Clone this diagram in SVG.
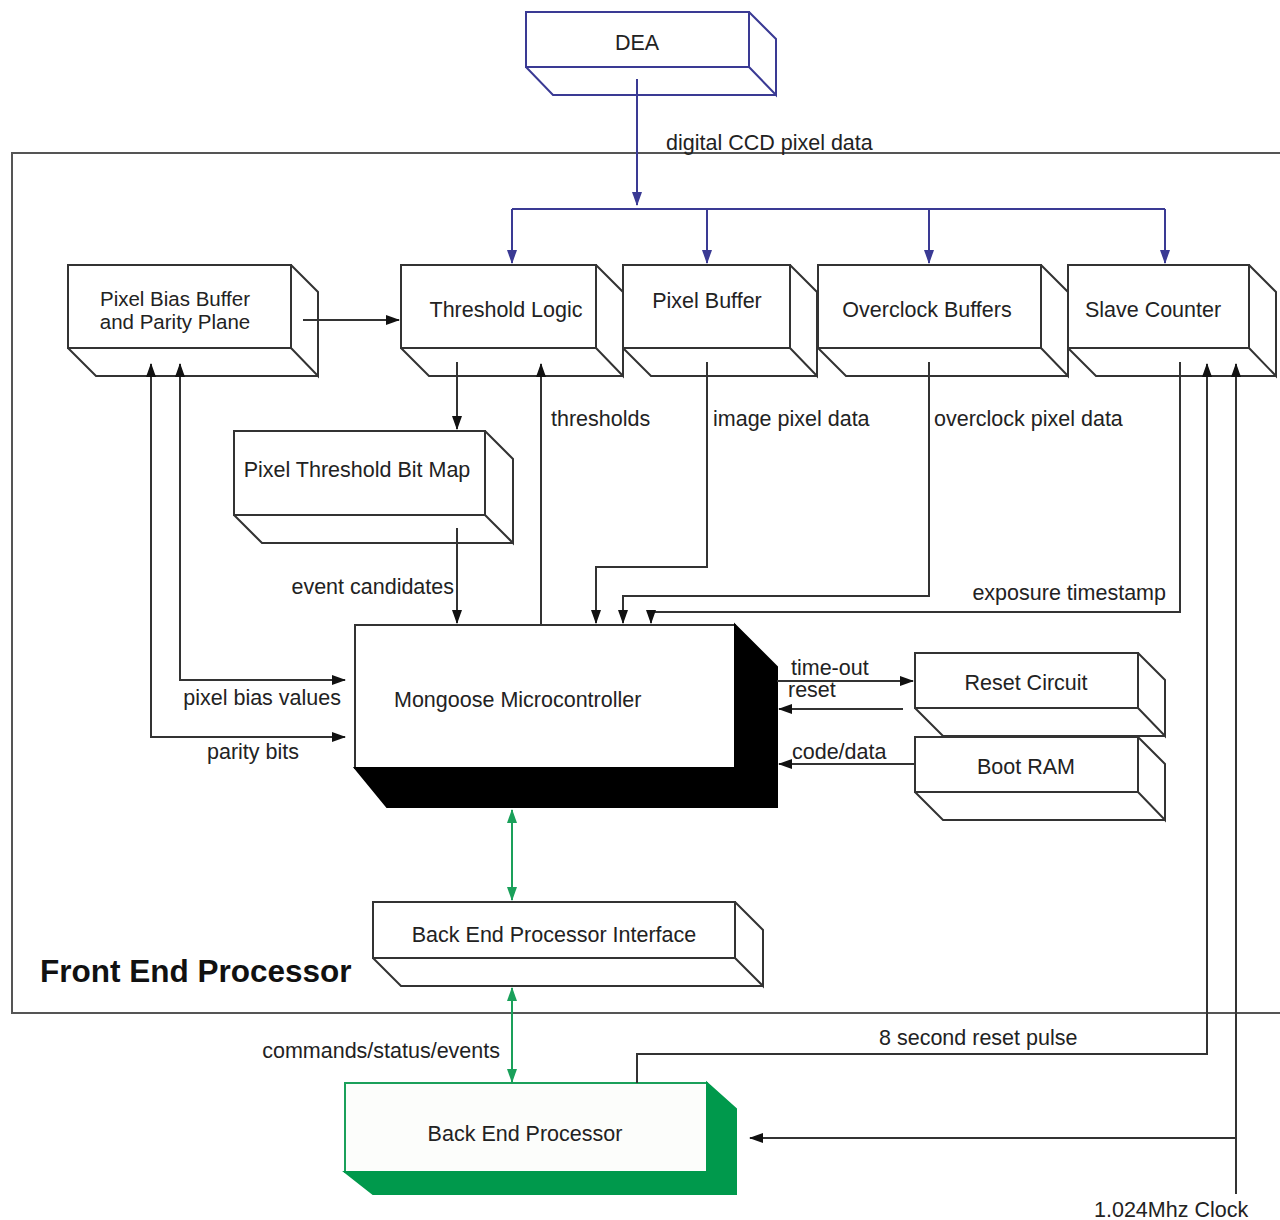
<svg xmlns="http://www.w3.org/2000/svg" width="1280" height="1220" viewBox="0 0 1280 1220">
  <style>
    text { font-family: "Liberation Sans", Arial, sans-serif; font-size: 21.5px; fill: #222; }
    .box { fill: #fff; stroke: #333; stroke-width: 2; stroke-linejoin: miter; }
    .blue { fill: #fff; stroke: #3a3a94; stroke-width: 2; }
    .wire { fill: none; stroke: #333; stroke-width: 2; }
    .bwire { fill: none; stroke: #3a3a94; stroke-width: 2; }
    .gwire { fill: none; stroke: #1aa05a; stroke-width: 2; }
    .mid { text-anchor: middle; }
    .end { text-anchor: end; }
    .two { font-size: 20.5px; }
  </style>
  <defs>
    <marker id="ah" markerUnits="userSpaceOnUse" markerWidth="14" markerHeight="10" refX="13" refY="5" orient="auto-start-reverse">
      <path d="M0,0 L14,5 L0,10 Z" fill="#111"/>
    </marker>
    <marker id="ahb" markerUnits="userSpaceOnUse" markerWidth="14" markerHeight="10" refX="13" refY="5" orient="auto-start-reverse">
      <path d="M0,0 L14,5 L0,10 Z" fill="#3a3a94"/>
    </marker>
    <marker id="ahg" markerUnits="userSpaceOnUse" markerWidth="14" markerHeight="10" refX="13" refY="5" orient="auto-start-reverse">
      <path d="M0,0 L14,5 L0,10 Z" fill="#1aa05a"/>
    </marker>
  </defs>

  <!-- Front End Processor enclosure -->
  <g id="front-end-processor">
    <rect x="12" y="153" width="1290" height="860" fill="none" stroke="#555" stroke-width="2"/>
    <text x="40" y="982" style="font-size:31.5px;font-weight:bold;fill:#111">Front End Processor</text>
  </g>

  <!-- DEA -->
  <g id="dea">
    <path class="blue" d="M526,12 H749 V67 H526 Z M749,12 L776,39 V95 L749,67 M526,67 L553,95 H776"/>
    <text class="mid" x="637" y="50">DEA</text>
  </g>

  <!-- Pixel Bias Buffer and Parity Plane -->
  <g id="pixel-bias-buffer">
    <path class="box" d="M68,265 H291 V348 H68 Z M291,265 L318,292 V376 L291,348 M68,348 L96,376 H318"/>
    <text class="mid two" x="175" y="306">Pixel Bias Buffer</text>
    <text class="mid two" x="175" y="329">and Parity Plane</text>
  </g>

  <!-- Threshold Logic -->
  <g id="threshold-logic">
    <path class="box" d="M401,265 H596 V348 H401 Z M596,265 L623,292 V376 L596,348 M401,348 L429,376 H623"/>
    <text class="mid" x="506" y="317">Threshold Logic</text>
  </g>

  <!-- Pixel Buffer -->
  <g id="pixel-buffer">
    <path class="box" d="M623,265 H790 V348 H623 Z M790,265 L817,292 V376 L790,348 M623,348 L651,376 H817"/>
    <text class="mid" x="707" y="308">Pixel Buffer</text>
  </g>

  <!-- Overclock Buffers -->
  <g id="overclock-buffers">
    <path class="box" d="M818,265 H1041 V348 H818 Z M1041,265 L1068,292 V376 L1041,348 M818,348 L846,376 H1068"/>
    <text class="mid" x="927" y="317">Overclock Buffers</text>
  </g>

  <!-- Slave Counter -->
  <g id="slave-counter">
    <path class="box" d="M1068,265 H1249 V348 H1068 Z M1249,265 L1276,292 V376 L1249,348 M1068,348 L1096,376 H1276"/>
    <text class="mid" x="1153" y="317">Slave Counter</text>
  </g>

  <!-- Pixel Threshold Bit Map -->
  <g id="pixel-threshold-bit-map">
    <path class="box" d="M234,431 H485 V515 H234 Z M485,431 L513,459 V543 L485,515 M234,515 L262,543 H513"/>
    <text class="mid" x="357" y="477">Pixel Threshold Bit Map</text>
  </g>

  <!-- Mongoose Microcontroller -->
  <g id="mongoose">
    <rect class="box" x="355" y="625" width="380" height="143"/>
    <path d="M735,625 L777,667 V807 H387 L355,768 H735 Z" fill="#000" stroke="#000" stroke-width="2" stroke-linejoin="miter"/>
    <text x="394" y="707">Mongoose Microcontroller</text>
  </g>

  <!-- Reset Circuit -->
  <g id="reset-circuit">
    <path class="box" d="M915,653 H1138 V708 H915 Z M1138,653 L1165,680 V736 L1138,708 M915,708 L943,736 H1165"/>
    <text class="mid" x="1026" y="690">Reset Circuit</text>
  </g>

  <!-- Boot RAM -->
  <g id="boot-ram">
    <path class="box" d="M915,737 H1138 V792 H915 Z M1138,737 L1165,764 V820 L1138,792 M915,792 L943,820 H1165"/>
    <text class="mid" x="1026" y="774">Boot RAM</text>
  </g>

  <!-- Back End Processor Interface -->
  <g id="bep-interface">
    <path class="box" d="M373,902 H735 V958 H373 Z M735,902 L763,930 V986 L735,958 M373,958 L401,986 H763"/>
    <text class="mid" x="554" y="942">Back End Processor Interface</text>
  </g>

  <!-- Back End Processor -->
  <g id="back-end-processor">
    <rect x="345" y="1083" width="362" height="89" fill="#fcfdfb" stroke="#1aa05a" stroke-width="2"/>
    <path d="M707,1083 L736,1109 V1194 H373 L345,1172 H707 Z" fill="#00994c" stroke="#00994c" stroke-width="2"/>
    <text class="mid" x="525" y="1141">Back End Processor</text>
  </g>

  <!-- Connectors -->
  <g id="connectors">
    <!-- DEA pixel data distribution -->
    <path class="bwire" d="M637,79 V205" marker-end="url(#ahb)"/>
    <path class="bwire" d="M512,209 H1165"/>
    <path class="bwire" d="M512,209 V263" marker-end="url(#ahb)"/>
    <path class="bwire" d="M707,209 V263" marker-end="url(#ahb)"/>
    <path class="bwire" d="M929,209 V263" marker-end="url(#ahb)"/>
    <path class="bwire" d="M1165,209 V263" marker-end="url(#ahb)"/>

    <!-- internal data paths -->
    <path class="wire" d="M303,320 H399" marker-end="url(#ah)"/>
    <path class="wire" d="M457,362 V429" marker-end="url(#ah)"/>
    <path class="wire" d="M541,624 V364" marker-end="url(#ah)"/>
    <path class="wire" d="M707,362 V567 H596 V623" marker-end="url(#ah)"/>
    <path class="wire" d="M929,362 V596 H623 V623" marker-end="url(#ah)"/>
    <path class="wire" d="M1180,362 V612 H651 V623" marker-end="url(#ah)"/>
    <path class="wire" d="M457,528 V623" marker-end="url(#ah)"/>
    <path class="wire" d="M345,680 H180 V364" marker-start="url(#ah)" marker-end="url(#ah)"/>
    <path class="wire" d="M345,737 H151 V364" marker-start="url(#ah)" marker-end="url(#ah)"/>

    <!-- reset / boot -->
    <path class="wire" d="M777,681 H913" marker-end="url(#ah)"/>
    <path class="wire" d="M903,709 H779" marker-end="url(#ah)"/>
    <path class="wire" d="M915,764 H779" marker-end="url(#ah)"/>

    <!-- back end links -->
    <path class="gwire" d="M512,810 V900" marker-start="url(#ahg)" marker-end="url(#ahg)"/>
    <path class="gwire" d="M512,988 V1082" marker-start="url(#ahg)" marker-end="url(#ahg)"/>

    <!-- reset pulse and clock -->
    <path class="wire" d="M637,1083 V1054 H1207 V364" marker-end="url(#ah)"/>
    <path class="wire" d="M1236,1194 V364" marker-end="url(#ah)"/>
    <path class="wire" d="M1236,1138 H750" marker-end="url(#ah)"/>
  </g>

  <!-- Connector labels -->
  <g id="labels">
    <text x="666" y="150">digital CCD pixel data</text>
    <text x="551" y="426">thresholds</text>
    <text x="713" y="426">image pixel data</text>
    <text x="934" y="426">overclock pixel data</text>
    <text class="end" x="454" y="594">event candidates</text>
    <text class="end" x="1166" y="600">exposure timestamp</text>
    <text class="end" x="341" y="705">pixel bias values</text>
    <text x="207" y="759">parity bits</text>
    <text x="791" y="675">time-out</text>
    <text x="788" y="697">reset</text>
    <text x="792" y="759">code/data</text>
    <text class="end" x="500" y="1058">commands/status/events</text>
    <text x="879" y="1045">8 second reset pulse</text>
    <text x="1094" y="1217">1.024Mhz Clock</text>
  </g>
</svg>
